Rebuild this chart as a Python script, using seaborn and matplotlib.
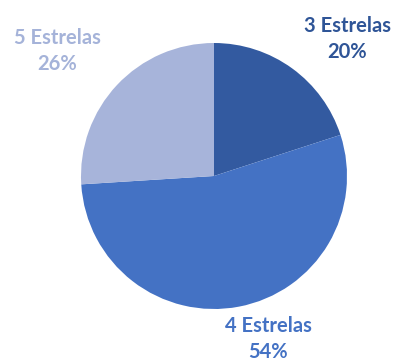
import matplotlib
matplotlib.use("Agg")
import matplotlib.pyplot as plt
import seaborn as sns

# data
categories = ["3 Estrelas", "4 Estrelas", "5 Estrelas"]
shares = [20, 54, 26]
colors = ["#335AA0", "#4472C4", "#A7B4DA"]
text_colors = ["#2F5597", "#4472C4", "#A5B3D9"]
# label block centres (pixel coords, y from top)
label_pos = [(347, 39), (268, 339), (57, 51)]

sns.set_style("white")
plt.rcParams["font.family"] = ["Lato", "DejaVu Sans"]

fig = plt.figure(figsize=(3.99, 3.6), dpi=100)
ax = fig.add_axes([0, 0, 1, 1])
ax.set_xlim(0, 399)
ax.set_ylim(0, 360)
ax.set_aspect("equal")
ax.axis("off")

ax.pie(
    shares, colors=colors, startangle=90, counterclock=False,
    center=(214, 360 - 176), radius=133, frame=True,
    wedgeprops=dict(linewidth=0),
)
ax.set_xlim(0, 399)
ax.set_ylim(0, 360)
ax.axis("off")

for cat, val, col, (x, y) in zip(categories, shares, text_colors, label_pos):
    ax.text(x, 360 - y, f"{cat}\n{val}%", color=col, ha="center", va="center",
            fontsize=14.5, fontweight="bold", linespacing=1.4)

fig.savefig("out.png", dpi=100, facecolor="white")
